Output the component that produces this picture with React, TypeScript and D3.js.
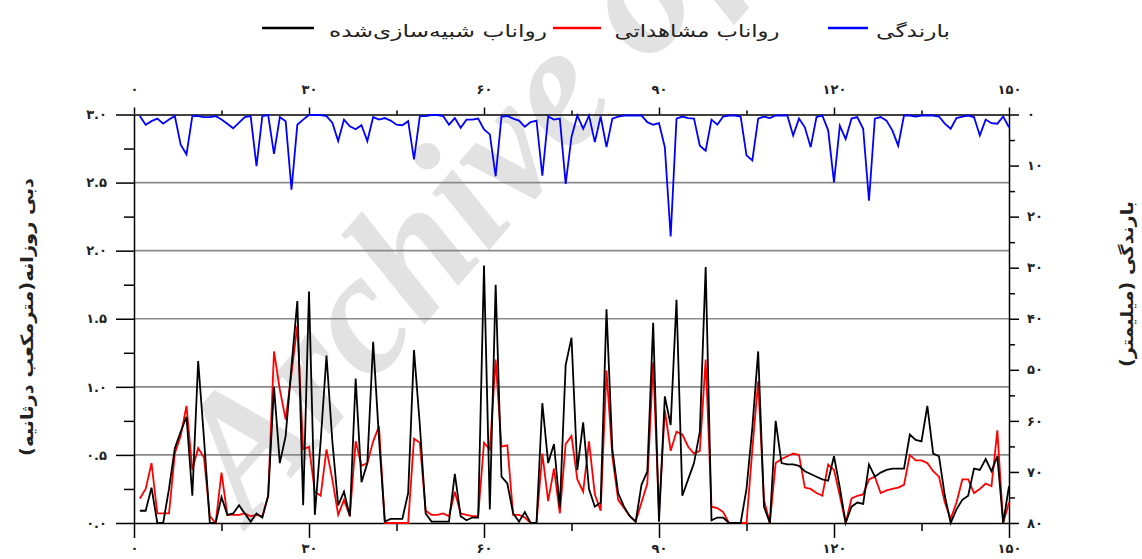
import React, { useEffect, useRef } from "react";
import * as d3 from "d3";

// daily values, day 1..150
const days = d3.range(1, 151);

const simulated = [
  0.09, 0.09, 0.26, 0, 0, 0.25, 0.55, 0.67, 0.78, 0.2,
  1.19, 0.62, 0, 0, 0.19, 0.06, 0.07, 0.13, 0.07, 0.01,
  0.07, 0.04, 0.2, 1.0, 0.44, 0.64, 1.15, 1.63, 0.13, 1.7,
  0.06, 0.6, 1.23, 0.6, 0.13, 0.23, 0.05, 1.06, 0.3, 0.44,
  1.33, 0.62, 0.01, 0.03, 0.03, 0.03, 0.22, 1.27, 0.72, 0.07,
  0.01, 0.01, 0.01, 0.01, 0.36, 0.05, 0.02, 0.04, 0.04, 1.89,
  0.1, 1.75, 0.34, 0.29, 0.07, 0.01, 0.08, 0, 0, 0.88,
  0.44, 0.58, 0.11, 1.16, 1.36, 0.39, 0.74, 0.25, 0.12, 0.15,
  1.57, 0.54, 0.22, 0.12, 0.05, 0.01, 0.28, 0.38, 1.47, 0.01,
  0.93, 0.72, 1.64, 0.2, 0.32, 0.44, 0.67, 1.88, 0.02, 0.04,
  0.04, 0, 0, 0, 0.25, 0.7, 1.26, 0.12, 0, 0.75,
  0.44, 0.43, 0.43, 0.42, 0.38, 0.36, 0.34, 0.32, 0.31, 0.49,
  0.26, 0, 0.12, 0.15, 0.14, 0.43, 0.34, 0.37, 0.39, 0.4,
  0.4, 0.4, 0.65, 0.61, 0.6, 0.86, 0.51, 0.49, 0.2, 0,
  0.1, 0.17, 0.2, 0.4, 0.39, 0.47, 0.38, 0.49, 0, 0.27,
];

const observed = [
  0.18, 0.25, 0.44, 0.07, 0.07, 0.07, 0.51, 0.64, 0.86, 0.39,
  0.55, 0.48, 0.05, 0, 0.37, 0.06, 0.06, 0.06, 0.07, 0.05,
  0.06, 0.05, 0.2, 1.26, 0.98, 0.76, 1.1, 1.45, 0.54, 0.56,
  0.23, 0.2, 0.54, 0.32, 0.06, 0.17, 0.05, 0.6, 0.42, 0.44,
  0.6, 0.71, 0, 0, 0, 0, 0, 0.62, 0.59, 0.09,
  0.06, 0.06, 0.07, 0.05, 0.23, 0.07, 0.06, 0.05, 0.05, 0.59,
  0.54, 1.2, 0.56, 0.57, 0.06, 0.06, 0.04, 0, 0, 0.51,
  0.16, 0.4, 0.07, 0.58, 0.64, 0.32, 0.23, 0.6, 0.21, 0.09,
  1.12, 0.49, 0.17, 0.11, 0.05, 0.01, 0.15, 0.29, 1.18, 0.07,
  0.83, 0.53, 0.67, 0.65, 0.56, 0.51, 0.53, 1.2, 0.12, 0.11,
  0.08, 0, 0, 0, 0, 0.54, 1.04, 0.17, 0, 0.44,
  0.47, 0.49, 0.51, 0.5, 0.26, 0.25, 0.22, 0.2, 0.43, 0.39,
  0.2, 0, 0.18, 0.2, 0.21, 0.32, 0.34, 0.22, 0.24, 0.25,
  0.26, 0.28, 0.5, 0.46, 0.46, 0.44, 0.38, 0.34, 0.15, 0.03,
  0.15, 0.32, 0.32, 0.22, 0.25, 0.29, 0.27, 0.68, 0, 0.15,
];

const rainfall = [
  0.3, 2, 1.3, 0.8, 1.8, 1, 0.3, 5.9, 7.8, 0.3,
  0.3, 0.5, 0.5, 0.3, 1, 1.8, 2.7, 1.6, 0.5, 0.3,
  10.1, 0.3, 0.1, 7.7, 0.5, 1.3, 14.7, 2, 1, 0.1,
  0.1, 0.1, 0.3, 1.6, 5.2, 1, 2.3, 2.9, 2.1, 5.2,
  0.5, 1, 0.7, 1.2, 2, 2.1, 1.3, 8.8, 0.3, 0.3,
  0.1, 0.1, 0.3, 2, 0.7, 2.6, 1, 1, 0.8, 2.9,
  3.9, 12.1, 0.4, 0.3, 0.8, 1.2, 2.4, 1.5, 1.2, 12,
  0.4, 1, 0.8, 13.6, 4.4, 0.2, 2.8, 0.2, 5.4, 0.4,
  6.4, 0.8, 0.4, 0.2, 0.2, 0.2, 0.2, 1.5, 2, 1.7,
  6.4, 23.9, 0.8, 0.4, 0.7, 0.8, 6.1, 7.1, 1, 2,
  0.4, 0.2, 0.2, 0.4, 8, 9, 0.8, 0.4, 0.7, 0.2,
  0.2, 0.2, 4.1, 0.8, 2.5, 6.4, 0.5, 0.2, 3.1, 13.3,
  2.2, 4.8, 0.8, 0.5, 2.8, 16.9, 0.8, 0.5, 1.2, 3.1,
  6.1, 0.2, 0.2, 0.4, 0.2, 0.2, 0.2, 0.4, 1.8, 2.8,
  0.7, 0.4, 0.2, 0.5, 4.1, 1, 1.7, 1.8, 0.4, 2.5,
];

const xTicks = [0, 30, 60, 90, 120, 150];
const flowTicks = [0, 0.5, 1, 1.5, 2, 2.5, 3];
const rainTicks = [0, 10, 20, 30, 40, 50, 60, 70, 80];

const legendItems = [
  { label: "بارندگی", color: "#0000ff" },
  { label: "رواناب مشاهداتی", color: "#ff0000" },
  { label: "رواناب شبیه‌سازی‌شده", color: "#000000" },
];

const flowTitle = "دبی روزانه(مترمکعب درثانیه)";
const rainTitle = "بارندگی (میلیمتر)";

const faDigits = "۰۱۲۳۴۵۶۷۸۹";
const fa = (s: string) => s.replace(/[0-9]/g, (c) => faDigits[+c]);

const W = 1142;
const H = 559;
const FONT = "'DejaVu Sans', sans-serif";

function RunoffChart() {
  const svgRef = useRef<SVGSVGElement>(null);

  useEffect(() => {
    const svg = d3.select(svgRef.current);
    svg.selectAll("*").remove();

    const x = d3.scaleLinear().domain([0, 150]).range([134, 1009]);
    const yFlow = d3.scaleLinear().domain([0, 3]).range([523, 114.5]);
    const yRain = d3.scaleLinear().domain([0, 80]).range([114.5, 523]);

    // watermark
    svg
      .append("text")
      .attr("transform", "translate(250,525) rotate(-49)")
      .attr("font-family", "'Liberation Serif', serif")
      .attr("font-weight", "bold")
      .attr("font-style", "italic")
      .attr("font-size", 175)
      .attr("fill", "#e2e2e2")
      .text("Archive of SID");

    // gridlines
    svg
      .append("g")
      .selectAll("line")
      .data(flowTicks.filter((t) => t > 0 && t < 3))
      .join("line")
      .attr("x1", x(0))
      .attr("x2", x(150))
      .attr("y1", (d) => yFlow(d))
      .attr("y2", (d) => yFlow(d))
      .attr("stroke", "#8a8a8a")
      .attr("stroke-width", 1.6);

    const styleAxis = (g: any) => {
      g.select(".domain").attr("stroke", "#000").attr("stroke-width", 1.5);
      g.selectAll(".tick line").attr("stroke", "#000").attr("stroke-width", 1.5);
      g.selectAll(".tick text")
        .attr("font-family", FONT)
        .attr("font-size", 13)
        .attr("font-weight", "bold")
        .attr("fill", "#222");
    };
    const minor = (g: any) => {
      g.select(".domain").remove();
      g.selectAll(".tick line").attr("stroke", "#000").attr("stroke-width", 1.5);
      g.selectAll(".tick text").remove();
    };

    // minor ticks
    svg
      .append("g")
      .attr("transform", `translate(${x(0)},0)`)
      .call(d3.axisLeft(yFlow).tickValues(d3.range(0.25, 3, 0.5)).tickSize(10))
      .call(minor);
    svg
      .append("g")
      .attr("transform", `translate(${x(150)},0)`)
      .call(d3.axisRight(yRain).tickValues(d3.range(5, 80, 10)).tickSize(6))
      .call(minor);
    svg
      .append("g")
      .attr("transform", `translate(0,${yFlow(3)})`)
      .call(d3.axisTop(x).tickValues(d3.range(15, 150, 30)).tickSize(4))
      .call(minor);
    svg
      .append("g")
      .attr("transform", `translate(0,${yFlow(0)})`)
      .call(d3.axisBottom(x).tickValues(d3.range(15, 150, 30)).tickSize(8))
      .call(minor);

    // major axes
    svg
      .append("g")
      .attr("transform", `translate(${x(0)},0)`)
      .call(
        d3
          .axisLeft(yFlow)
          .tickValues(flowTicks)
          .tickSize(18)
          .tickSizeOuter(0)
          .tickPadding(9)
          .tickFormat((d: any) => fa(d3.format(".1f")(d))),
      )
      .call(styleAxis);
    svg
      .append("g")
      .attr("transform", `translate(${x(150)},0)`)
      .call(
        d3
          .axisRight(yRain)
          .tickValues(rainTicks)
          .tickSize(10)
          .tickSizeOuter(0)
          .tickPadding(8)
          .tickFormat((d: any) => fa(String(d))),
      )
      .call(styleAxis);
    svg
      .append("g")
      .attr("transform", `translate(0,${yFlow(3)})`)
      .call(
        d3
          .axisTop(x)
          .tickValues(xTicks)
          .tickSize(7)
          .tickSizeOuter(0)
          .tickPadding(14)
          .tickFormat((d: any) => fa(String(d))),
      )
      .call(styleAxis);
    svg
      .append("g")
      .attr("transform", `translate(0,${yFlow(0)})`)
      .call(
        d3
          .axisBottom(x)
          .tickValues(xTicks)
          .tickSize(15)
          .tickSizeOuter(0)
          .tickPadding(6)
          .tickFormat((d: any) => fa(String(d))),
      )
      .call(styleAxis);

    // series
    const flowLine = (vals: number[]) =>
      d3
        .line<number>()
        .x((_, i) => x(days[i]))
        .y((d) => yFlow(d))(vals);
    const rainLine = d3
      .line<number>()
      .x((_, i) => x(days[i]))
      .y((d) => yRain(d));

    svg
      .append("path")
      .attr("d", rainLine(rainfall))
      .attr("fill", "none")
      .attr("stroke", "#0000ff")
      .attr("stroke-width", 1.8);
    svg
      .append("path")
      .attr("d", flowLine(observed))
      .attr("fill", "none")
      .attr("stroke", "#ff0000")
      .attr("stroke-width", 1.8);
    svg
      .append("path")
      .attr("d", flowLine(simulated))
      .attr("fill", "none")
      .attr("stroke", "#000")
      .attr("stroke-width", 1.8);

    // legend (line left of its rtl label)
    const legendPos = [
      { lx: 828, lw: 40, tx: 913, tw: 74 },
      { lx: 553, lw: 48, tx: 697, tw: 165 },
      { lx: 262, lw: 52, tx: 438, tw: 218 },
    ];
    const legend = svg.append("g");
    legendItems.forEach((it, i) => {
      const p = legendPos[i];
      legend
        .append("line")
        .attr("x1", p.lx)
        .attr("x2", p.lx + p.lw)
        .attr("y1", 28)
        .attr("y2", 28)
        .attr("stroke", it.color)
        .attr("stroke-width", 2.5);
      legend
        .append("text")
        .attr("x", p.tx)
        .attr("y", 37)
        .attr("direction", "rtl")
        .attr("text-anchor", "middle")
        .attr("font-family", FONT)
        .attr("font-size", 17)
        .attr("textLength", p.tw)
        .attr("lengthAdjust", "spacingAndGlyphs")
        .attr("fill", "#222")
        .text(it.label);
    });

    // axis titles
    svg
      .append("text")
      .attr("transform", "translate(33,317) rotate(-90)")
      .attr("direction", "rtl")
      .attr("text-anchor", "middle")
      .attr("font-family", FONT)
      .attr("font-size", 17)
      .attr("font-weight", "bold")
      .attr("textLength", 278)
      .attr("lengthAdjust", "spacingAndGlyphs")
      .attr("fill", "#222")
      .text(flowTitle);
    svg
      .append("text")
      .attr("transform", "translate(1133,284) rotate(-90)")
      .attr("direction", "rtl")
      .attr("text-anchor", "middle")
      .attr("font-family", FONT)
      .attr("font-size", 17)
      .attr("font-weight", "bold")
      .attr("textLength", 166)
      .attr("lengthAdjust", "spacingAndGlyphs")
      .attr("fill", "#222")
      .text(rainTitle);
  }, []);

  return (
    <svg
      ref={svgRef}
      width={W}
      height={H}
      style={{ position: "absolute", left: 0, top: 0, background: "#fff" }}
    />
  );
}

export default function App() {
  return <RunoffChart />;
}
